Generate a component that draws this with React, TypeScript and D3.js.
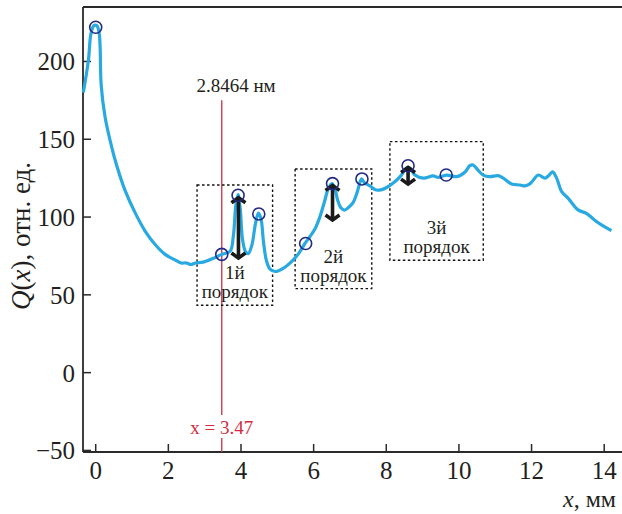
import React from 'react';
import * as d3 from 'd3';

const W = 622;
const H = 514;

// curve samples (x in mm, Q in rel. units)
const curveX = [-0.34, -0.2, -0.13, -0.05, 0.03, 0.09, 0.12, 0.15, 0.26, 0.44, 0.58, 0.81, 1.08, 1.36, 1.63, 1.91, 2.18, 2.35, 2.5, 2.62, 2.75, 2.96, 3.24, 3.47, 3.7, 3.79, 3.86, 3.92, 3.98, 4.04, 4.12, 4.2, 4.3, 4.4, 4.48, 4.55, 4.62, 4.7, 4.8, 4.94, 5.16, 5.44, 5.6, 5.76, 5.9, 6.05, 6.17, 6.3, 6.4, 6.5, 6.58, 6.66, 6.75, 6.85, 6.95, 7.09, 7.2, 7.32, 7.4, 7.55, 7.7, 7.85, 8.01, 8.2, 8.4, 8.56, 8.65, 8.79, 9.02, 9.29, 9.43, 9.66, 9.94, 10.17, 10.3, 10.39, 10.53, 10.67, 10.85, 11.08, 11.22, 11.45, 11.68, 11.82, 11.95, 12.05, 12.18, 12.37, 12.46, 12.58, 12.69, 12.83, 13.01, 13.28, 13.51, 13.74, 13.97, 14.2];
const curveY = [180, 201, 218, 223, 223, 219, 210, 185, 164, 145, 133, 117, 103, 91, 82.5, 76, 72.5, 70.5, 70.5, 69.5, 70.5, 71, 73.5, 76, 78, 88, 108, 114.5, 105, 86, 78, 76.5, 82, 96, 102.5, 99, 84, 72, 66.5, 65, 67, 72.5, 77, 83, 87.5, 93, 100, 110, 118, 121.5, 119, 111, 106, 104.5, 106, 109.5, 116, 124.5, 122, 120, 117.5, 117.5, 119, 122, 126.5, 131.5, 131.5, 127, 125, 126.5, 125.5, 127, 126, 129, 133, 133.5, 130, 127, 126, 126.6, 125, 121.3, 120.6, 120, 121.3, 123.8, 127, 125, 126.4, 129, 125, 116.3, 112, 104.6, 102.4, 98, 94.3, 91.3];

// circled peaks
const markerX = [0, 3.47, 3.92, 4.49, 5.78, 6.52, 7.33, 8.6, 9.65];
const markerY = [222, 76, 114, 102, 83, 121.5, 124.5, 133, 127];

// double arrows
const arrowX = [3.93, 6.52, 8.6];
const arrowTop = [113, 121, 132.5];
const arrowBottom = [73, 97.5, 120.5];

// dotted boxes
const boxX0 = [2.79, 5.49, 8.1];
const boxX1 = [4.87, 7.6, 10.67];
const boxTop = [120.6, 130.9, 148.5];
const boxBottom = [43.3, 54, 72.2];
const boxLabels = ['1й', '2й', '3й'];
const boxWord = 'порядок';

const xTicks = [0, 2, 4, 6, 8, 10, 12, 14];
const yTicks = [-50, 0, 50, 100, 150, 200];

const cursorX = 3.47;
const cursorTopVal = 175;
const cursorLabel = 'x = 3.47';
const distLabel = '2.8464 нм';

const FONT = '"Liberation Serif", "Times New Roman", serif';
const AXIS = '#2a2a2a';
const TEXT = '#231f20';
const BLUE = '#29a9e1';
const NAVY = '#232a86';
const RED = '#cc3d4e';

export default function App() {
  const left = 83, top = 7, bottom = 452;
  const x = d3.scaleLinear().domain([-0.35, 14.49]).range([left, W]);
  const y = d3.scaleLinear().domain([-51, 235]).range([bottom, top]);

  const pts: [number, number][] = curveX.map((v, i) => [v, curveY[i]]);
  const line = d3
    .line<[number, number]>()
    .x((d) => x(d[0]))
    .y((d) => y(d[1]))
    .curve(d3.curveCatmullRom.alpha(0.5));

  const cx = x(cursorX);
  const tickLen = 8;

  return (
    <svg
      width={W}
      height={H}
      style={{ position: 'absolute', left: 0, top: 0, background: '#fff' }}
      fontFamily={FONT}
    >
      <rect width={W} height={H} fill="#fff" />

      {/* frame */}
      <line x1={left} x2={W} y1={top} y2={top} stroke={AXIS} strokeWidth={1.8} />
      <line x1={left} x2={W} y1={bottom} y2={bottom} stroke={AXIS} strokeWidth={1.8} />
      <line x1={left} x2={left} y1={top} y2={bottom} stroke={AXIS} strokeWidth={1.8} />

      {/* y ticks */}
      {yTicks.map((t) => (
        <g key={'y' + t}>
          <line x1={left} x2={left + tickLen} y1={y(t)} y2={y(t)} stroke={AXIS} strokeWidth={1.5} />
          <text x={75} y={y(t)} dy="0.36em" textAnchor="end" fontSize={25} fill={TEXT}>
            {t < 0 ? '\u2212' + Math.abs(t) : t}
          </text>
        </g>
      ))}

      {/* x ticks */}
      {xTicks.map((t) => (
        <g key={'x' + t}>
          <line x1={x(t)} x2={x(t)} y1={bottom} y2={bottom - tickLen} stroke={AXIS} strokeWidth={1.5} />
          <text x={x(t)} y={479} textAnchor="middle" fontSize={25} fill={TEXT}>
            {t}
          </text>
        </g>
      ))}

      {/* axis titles */}
      <text
        transform={`translate(30, 236) rotate(-90)`}
        textAnchor="middle"
        fontSize={27}
        fill={TEXT}
      >
        <tspan fontStyle="italic">Q</tspan>
        <tspan>(</tspan>
        <tspan fontStyle="italic">x</tspan>
        <tspan>), отн. ед.</tspan>
      </text>
      <text x={616} y={507} textAnchor="end" fontSize={24} fill={TEXT}>
        <tspan fontStyle="italic">x</tspan>
        <tspan>, мм</tspan>
      </text>

      {/* red cursor */}
      <line x1={cx} x2={cx} y1={y(cursorTopVal)} y2={415} stroke={RED} strokeWidth={1.4} />
      <line x1={cx} x2={cx} y1={438} y2={bottom} stroke={RED} strokeWidth={1.4} />
      <text x={cx} y={434} textAnchor="middle" fontSize={19} fill="#d42b40">
        {cursorLabel}
      </text>
      <text x={236} y={92} textAnchor="middle" fontSize={19} fill={TEXT}>
        {distLabel}
      </text>

      {/* dotted boxes */}
      {boxX0.map((b, i) => (
        <g key={'b' + i}>
          <rect
            x={x(b)}
            y={y(boxTop[i])}
            width={x(boxX1[i]) - x(b)}
            height={y(boxBottom[i]) - y(boxTop[i])}
            fill="none"
            stroke="#111"
            strokeWidth={1.4}
            strokeDasharray="2.5,2.5"
          />
          <text
            x={(x(b) + x(boxX1[i])) / 2}
            y={y(boxBottom[i]) - 26}
            textAnchor="middle"
            fontSize={19}
            fill={TEXT}
          >
            {boxLabels[i]}
          </text>
          <text
            x={(x(b) + x(boxX1[i])) / 2}
            y={y(boxBottom[i]) - 7}
            textAnchor="middle"
            fontSize={19}
            fill={TEXT}
          >
            {boxWord}
          </text>
        </g>
      ))}

      {/* curve */}
      <path d={line(pts) || ''} fill="none" stroke={BLUE} strokeWidth={3.2} strokeLinejoin="round" />

      {/* arrows */}
      {arrowX.map((a, i) => {
        const ax = x(a);
        const y1 = y(arrowTop[i]);
        const y2 = y(arrowBottom[i]);
        const hw = 7;
        const hh = 6;
        return (
          <g key={'a' + i} stroke="#1a1a1a" strokeWidth={3.6} fill="none" strokeLinejoin="miter">
            <line x1={ax} x2={ax} y1={y1 + 1} y2={y2 - 1} />
            <polyline points={`${ax - hw},${y1 + hh} ${ax},${y1 + 1} ${ax + hw},${y1 + hh}`} />
            <polyline points={`${ax - hw},${y2 - hh} ${ax},${y2 - 1} ${ax + hw},${y2 - hh}`} />
          </g>
        );
      })}

      {/* markers */}
      {markerX.map((m, i) => (
        <circle key={'m' + i} cx={x(m)} cy={y(markerY[i])} r={6} fill="none" stroke={NAVY} strokeWidth={1.6} />
      ))}
    </svg>
  );
}
